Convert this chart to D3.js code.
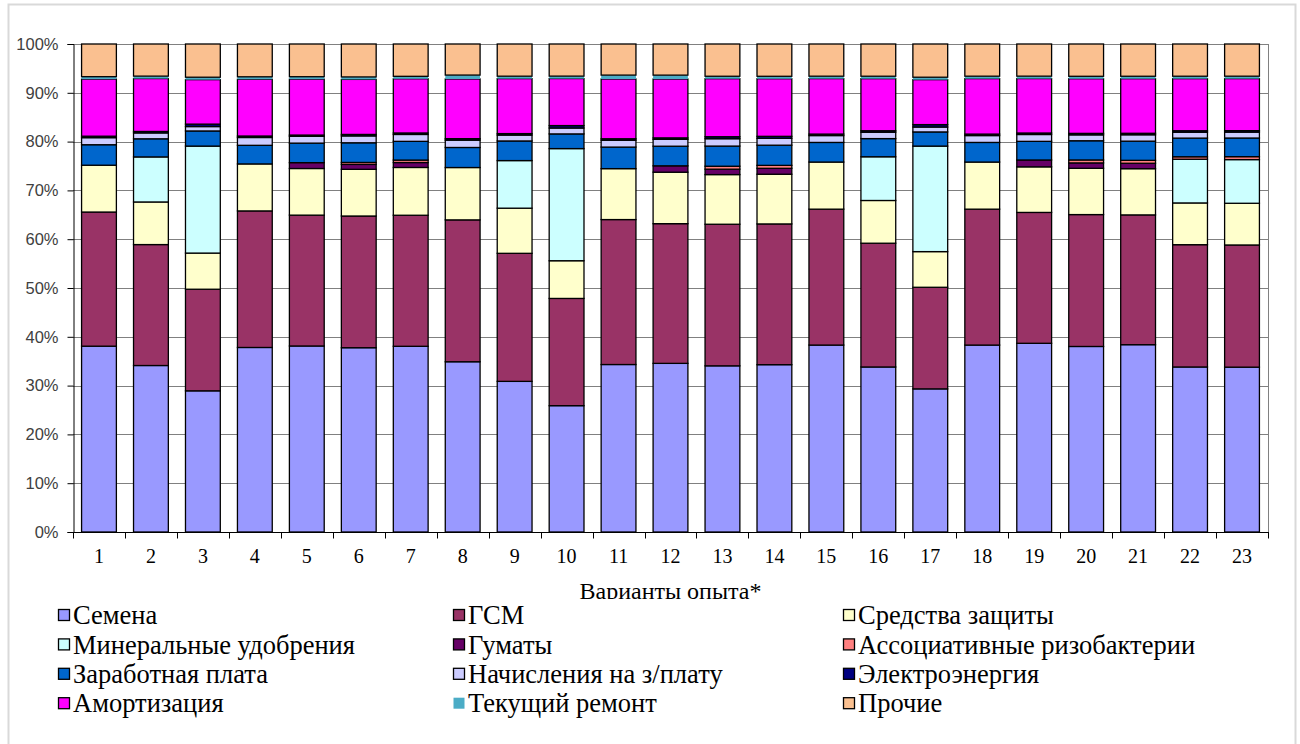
<!DOCTYPE html>
<html>
<head>
<meta charset="utf-8">
<script src="https://cdn.jsdelivr.net/npm/d3@7"></script>
<style>
  body { margin: 0; background: #fff; }
  svg { display: block; }
</style>
</head>
<body>
<div id="container"></div>
<script>
const WIDTH = 1300;
const HEIGHT = 744;
const PLOT = { LEFT: 73, RIGHT: 1268, TOP: 44, BOTTOM: 532 };

// варианты опыта
const variants = d3.range(1, 24).map(String);

// доли затрат, % (читаются с графика)
const semena   = [38.1, 34.0, 28.9, 37.7, 38.1, 37.5, 37.7, 34.8, 30.7, 25.8, 34.2, 34.4, 33.8, 34.0, 38.1, 33.6, 29.3, 38.1, 38.5, 37.7, 38.1, 33.6, 33.6];
const gsm      = [27.5, 24.7, 20.8, 27.9, 26.8, 26.8, 26.6, 29.0, 26.1, 21.9, 29.6, 28.5, 28.8, 28.6, 27.7, 25.2, 20.8, 27.7, 26.7, 26.8, 26.4, 24.9, 24.9];
const sredstva = [9.6, 8.7, 7.4, 9.6, 9.55, 9.5, 9.7, 10.7, 9.2, 7.7, 10.4, 10.5, 10.1, 10.1, 9.6, 8.7, 7.3, 9.6, 9.3, 9.4, 9.4, 8.5, 8.5];
const mineral  = [0, 9.2, 21.9, 0, 0, 0, 0, 0, 9.7, 22.9, 0, 0, 0, 0, 0, 8.9, 21.6, 0, 0, 0, 0, 8.9, 8.9];
const gumaty   = [0, 0, 0, 0, 1.2, 1.0, 1.0, 0, 0, 0, 0, 1.3, 1.1, 1.2, 0, 0, 0, 0, 1.4, 1.1, 1.1, 0, 0];
const rizo     = [0, 0, 0, 0, 0, 0.4, 0.5, 0, 0, 0, 0, 0, 0.6, 0.6, 0, 0, 0, 0, 0, 0.6, 0.6, 0.5, 0.6];
const zarplata = [4.2, 3.7, 3.1, 3.8, 4.0, 4.0, 3.8, 4.1, 4.0, 3.0, 4.4, 4.0, 4.1, 4.1, 4.0, 3.7, 2.9, 4.0, 3.8, 3.9, 3.9, 3.8, 3.8];
const nachisl  = [1.45, 1.2, 0.9, 1.6, 1.4, 1.4, 1.4, 1.5, 1.2, 1.2, 1.4, 1.4, 1.5, 1.4, 1.4, 1.3, 1.0, 1.4, 1.4, 1.2, 1.3, 1.2, 1.2];
const electro  = [0.3, 0.3, 0.5, 0.3, 0.25, 0.3, 0.3, 0.3, 0.3, 0.5, 0.3, 0.3, 0.4, 0.4, 0.3, 0.3, 0.5, 0.3, 0.3, 0.3, 0.3, 0.3, 0.3];
const amort    = [11.7, 10.8, 9.1, 11.6, 11.45, 11.2, 11.0, 12.2, 11.2, 9.6, 12.2, 12.0, 11.8, 11.7, 11.3, 10.6, 9.2, 11.3, 11.1, 11.1, 11.1, 10.6, 10.6];
const remont   = [0.5, 0.5, 0.5, 0.5, 0.5, 0.5, 0.5, 0.8, 0.5, 0.5, 0.8, 0.8, 0.5, 0.5, 0.5, 0.5, 0.5, 0.5, 0.5, 0.5, 0.5, 0.5, 0.5];
const prochie  = [6.7, 6.56, 6.8, 6.7, 6.7, 6.7, 6.56, 6.35, 6.56, 6.56, 6.35, 6.35, 6.56, 6.56, 6.56, 6.56, 6.8, 6.56, 6.56, 6.56, 6.56, 6.56, 6.56];

const seriesNames = ['Семена', 'ГСМ', 'Средства защиты', 'Минеральные удобрения', 'Гуматы',
                     'Ассоциативные ризобактерии', 'Заработная плата', 'Начисления на з/плату',
                     'Электроэнергия', 'Амортизация', 'Текущий ремонт', 'Прочие'];
const seriesValues = [semena, gsm, sredstva, mineral, gumaty, rizo, zarplata, nachisl,
                      electro, amort, remont, prochie];
const colors = ['#9999ff', '#993366', '#ffffcc', '#ccffff', '#660066', '#ff8080',
                '#0066cc', '#ccccff', '#000080', '#ff00ff', '#4bacc6', '#fac090'];
const yTicks = d3.range(0, 11).map(d => d / 10);
const xTitle = 'Варианты опыта*';

const table = variants.map((v, i) => {
    const row = { variant: v };
    seriesNames.forEach((name, j) => { row[name] = seriesValues[j][i]; });
    return row;
});

const stack = d3.stack()
                .keys(seriesNames)
                .offset(d3.stackOffsetExpand);
const layers = stack(table);

const svg = d3.select('#container')
              .append('svg')
                .attr('width', WIDTH)
                .attr('height', HEIGHT);

// рамка диаграммы
svg.append('rect')
     .attr('x', 8.5)
     .attr('y', 4.5)
     .attr('width', 1287)
     .attr('height', 780)
     .attr('fill', '#fff')
     .attr('stroke', '#d9d9d9')
     .attr('stroke-width', 2);

const xscale = d3.scaleBand()
                 .domain(variants)
                 .range([PLOT.LEFT, PLOT.RIGHT])
                 .paddingInner(0.33)
                 .paddingOuter(0.165);
const yscale = d3.scaleLinear()
                 .domain([0, 1])
                 .range([PLOT.BOTTOM, PLOT.TOP]);

// сетка
svg.append('g')
     .selectAll('line')
     .data(yTicks.filter(d => d > 0))
     .enter()
     .append('line')
       .attr('x1', PLOT.LEFT)
       .attr('x2', PLOT.RIGHT)
       .attr('y1', d => Math.round(yscale(d)) + 0.5)
       .attr('y2', d => Math.round(yscale(d)) + 0.5)
       .attr('stroke', '#808080')
       .attr('stroke-width', 1);

svg.append('line')
     .attr('x1', PLOT.RIGHT + 0.5)
     .attr('x2', PLOT.RIGHT + 0.5)
     .attr('y1', PLOT.TOP)
     .attr('y2', PLOT.BOTTOM)
     .attr('stroke', '#808080');

// столбцы
const groups = svg.append('g')
                  .selectAll('g')
                  .data(layers)
                  .enter()
                  .append('g')
                    .attr('fill', (d, i) => colors[i])
                    .attr('stroke', d => d.key === 'Текущий ремонт' ? 'none' : '#000')
                    .attr('stroke-width', 1.3);

groups.selectAll('rect')
      .data(d => d.filter(p => p[1] - p[0] > 0))
      .enter()
      .append('rect')
        .attr('x', d => xscale(d.data.variant))
        .attr('y', d => yscale(d[1]))
        .attr('width', xscale.bandwidth())
        .attr('height', d => yscale(d[0]) - yscale(d[1]));

// ось Y
const yAxis = svg.append('g')
                 .attr('transform', `translate(${PLOT.LEFT + 0.5}, 0)`)
                 .call(d3.axisLeft(yscale)
                         .tickValues(yTicks)
                         .tickFormat(d3.format('.0%'))
                         .tickSize(6)
                         .tickPadding(9));
yAxis.select('.domain').attr('stroke', '#000');
yAxis.selectAll('.tick line').attr('stroke', '#000');
yAxis.selectAll('.tick text')
     .attr('font-family', '"Liberation Sans", Arial, sans-serif')
     .attr('font-size', 16.5)
     .attr('fill', '#404040');

// ось X
const xAxis = svg.append('g')
                 .attr('transform', `translate(0, ${PLOT.BOTTOM + 0.5})`)
                 .call(d3.axisBottom(xscale)
                         .tickSize(0)
                         .tickPadding(16));
xAxis.select('.domain')
     .attr('d', `M${PLOT.LEFT},0H${PLOT.RIGHT + 1}`)
     .attr('stroke', '#000');
xAxis.selectAll('.tick text')
     .attr('font-family', '"Liberation Serif", "Times New Roman", serif')
     .attr('font-size', 20)
     .attr('fill', '#000');

xAxis.append('g')
     .selectAll('line')
     .data(d3.range(0, variants.length + 1))
     .enter()
     .append('line')
       .attr('x1', i => Math.round(PLOT.LEFT + i * xscale.step()) + 0.5)
       .attr('x2', i => Math.round(PLOT.LEFT + i * xscale.step()) + 0.5)
       .attr('y1', 0)
       .attr('y2', 6)
       .attr('stroke', '#000');

svg.append('text')
     .attr('x', (PLOT.LEFT + PLOT.RIGHT) / 2)
     .attr('y', 599)
     .attr('text-anchor', 'middle')
     .attr('font-family', '"Liberation Serif", "Times New Roman", serif')
     .attr('font-size', 24)
     .text(xTitle);

// легенда
const legend = svg.append('g');
legend.append('rect')
        .attr('x', 30)
        .attr('y', 599)
        .attr('width', 1240)
        .attr('height', 120)
        .attr('fill', '#fff');

const LEG_COLS = [58, 453, 843];
const LEG_ROW0 = 615;
const LEG_ROWH = 29.4;

const items = legend.selectAll('g.item')
                    .data(seriesNames)
                    .enter()
                    .append('g')
                      .attr('class', 'item')
                      .attr('transform', (d, i) =>
                            `translate(${LEG_COLS[i % 3]}, ${LEG_ROW0 + Math.floor(i / 3) * LEG_ROWH})`);

items.append('rect')
       .attr('x', 0.5)
       .attr('y', -5.5)
       .attr('width', 11)
       .attr('height', 11)
       .attr('fill', (d, i) => colors[i])
       .attr('stroke', d => d === 'Текущий ремонт' ? 'none' : '#000')
       .attr('stroke-width', 1.3);

items.append('text')
       .attr('x', 15)
       .attr('y', 0)
       .attr('dy', '0.35em')
       .attr('font-family', '"Liberation Serif", "Times New Roman", serif')
       .attr('font-size', 26.5)
       .text(d => d);
</script>
</body>
</html>
